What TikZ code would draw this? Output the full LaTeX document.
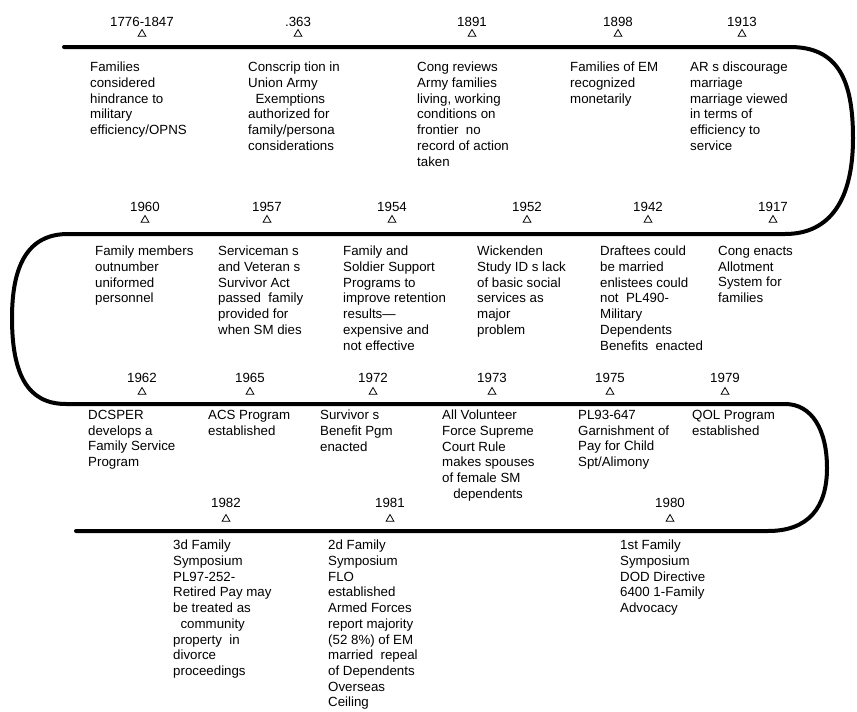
\documentclass[tikz,border=0pt]{standalone}
\usepackage{fontspec}
\setmainfont{Liberation Sans}
\usetikzlibrary{shapes.geometric}
\newcommand\tlfont{\fontsize{13.3pt}{15.7pt}\selectfont}
\tikzset{
  yr/.style={font=\tlfont, inner sep=0pt, anchor=center},
  tri/.style={draw, regular polygon, regular polygon sides=3, minimum size=9pt, inner sep=0pt, line width=0.8pt},
  desc/.style={font=\tlfont, align=left, anchor=north west, inner sep=0pt},
  tline/.style={line width=4pt, line cap=round, line join=round}
}
\begin{document}
\begin{tikzpicture}[x=1pt,y=-1pt]
\useasboundingbox (0,0) rectangle (857,712);
% serpentine timeline
\coordinate (s0) at (64,47);
\coordinate (s1) at (790,47);
\coordinate (s2) at (853,138);
\coordinate (s3) at (785,234);
\coordinate (s4) at (68,234);
\coordinate (s5) at (12,318);
\coordinate (s6) at (66,404);
\coordinate (s7) at (785,404);
\coordinate (s8) at (827,468);
\coordinate (s9) at (768,531);
\coordinate (s10) at (76,531);
\draw[tline] (s0) -- (s1) .. controls (838,47) and (853,80) .. (s2)
  .. controls (853,200) and (830,234) .. (s3) -- (s4)
  .. controls (28,234) and (12,265) .. (s5)
  .. controls (12,375) and (28,404) .. (s6) -- (s7)
  .. controls (812,404) and (827,430) .. (s8)
  .. controls (827,508) and (808,531) .. (s9) -- (s10);

% row 1
\node[yr] (y1) at (142,22) {1776-1847};
\node[yr] (y2) at (298,22) {.363};
\node[yr] (y3) at (472,22) {1891};
\node[yr] (y4) at (618,22) {1898};
\node[yr] (y5) at (742,22) {1913};
\foreach \n/\x in {1/142,2/298,3/472,4/618,5/742}{\node[tri] (ta\n) at (\x,34) {};}
\node[desc] (d1) at (90,62) {Families\\considered\\hindrance to\\military\\efficiency/OPNS};
\node[desc] (d2) at (248,62) {Conscrip tion in\\Union Army\\\ \ Exemptions\\authorized for\\family/persona\\considerations};
\node[desc] (d3) at (417,62) {Cong reviews\\Army families\\living, working\\conditions on\\frontier\ \ no\\record of action\\taken};
\node[desc] (d4) at (570,62) {Families of EM\\recognized\\monetarily};
\node[desc] (d5) at (690,62) {AR s discourage\\marriage\\marriage viewed\\in terms of\\efficiency to\\service};

% row 2
\node[yr] (y6) at (145,207) {1960};
\node[yr] (y7) at (267,207) {1957};
\node[yr] (y8) at (392,207) {1954};
\node[yr] (y9) at (527,207) {1952};
\node[yr] (y10) at (648,207) {1942};
\node[yr] (y11) at (773,207) {1917};
\foreach \n/\x in {1/145,2/267,3/392,4/527,5/648,6/773}{\node[tri] (tb\n) at (\x,220) {};}
\node[desc] (d6) at (95,246) {Family members\\outnumber\\uniformed\\personnel};
\node[desc] (d7) at (218,246) {Serviceman s\\and Veteran s\\Survivor Act\\passed\ \ family\\provided for\\when SM dies};
\node[desc] (d8) at (343,246) {Family and\\Soldier Support\\Programs to\\improve retention\\results—\\expensive and\\not effective};
\node[desc] (d9) at (477,246) {Wickenden\\Study ID s lack\\of basic social\\services as\\major\\problem};
\node[desc] (d10) at (600,246) {Draftees could\\be married\\enlistees could\\not\ \ PL490-\\Military\\Dependents\\Benefits\ \ enacted};
\node[desc] (d11) at (718,246) {Cong enacts\\Allotment\\System for\\families};

% row 3
\node[yr] (y12) at (142,378) {1962};
\node[yr] (y13) at (250,378) {1965};
\node[yr] (y14) at (373,378) {1972};
\node[yr] (y15) at (492,378) {1973};
\node[yr] (y16) at (610,378) {1975};
\node[yr] (y17) at (725,378) {1979};
\foreach \n/\x in {1/142,2/250,3/373,4/492,5/610,6/725}{\node[tri] (tc\n) at (\x,392) {};}
\node[desc] (d12) at (88,410) {DCSPER\\develops a\\Family Service\\Program};
\node[desc] (d13) at (208,410) {ACS Program\\established};
\node[desc] (d14) at (320,410) {Survivor s\\Benefit Pgm\\enacted};
\node[desc] (d15) at (442,410) {All Volunteer\\Force Supreme\\Court Rule\\makes spouses\\of female SM\\\ \ \ dependents};
\node[desc] (d16) at (578,410) {PL93-647\\Garnishment of\\Pay for Child\\Spt/Alimony};
\node[desc] (d17) at (692,410) {QOL Program\\established};

% row 4
\node[yr] (y18) at (226,503) {1982};
\node[yr] (y19) at (390,503) {1981};
\node[yr] (y20) at (670,503) {1980};
\foreach \n/\x in {1/226,2/390,3/670}{\node[tri] (td\n) at (\x,519) {};}
\node[desc] (d18) at (173,540) {3d Family\\Symposium\\PL97-252-\\Retired Pay may\\be treated as\\\ \ community\\property\ \ in\\divorce\\proceedings};
\node[desc] (d19) at (328,540) {2d Family\\Symposium\\FLO\\established\\Armed Forces\\report majority\\(52 8\%) of EM\\married\ \ repeal\\of Dependents\\Overseas\\Ceiling};
\node[desc] (d20) at (620,540) {1st Family\\Symposium\\DOD Directive\\6400 1-Family\\Advocacy};
\end{tikzpicture}
\end{document}
